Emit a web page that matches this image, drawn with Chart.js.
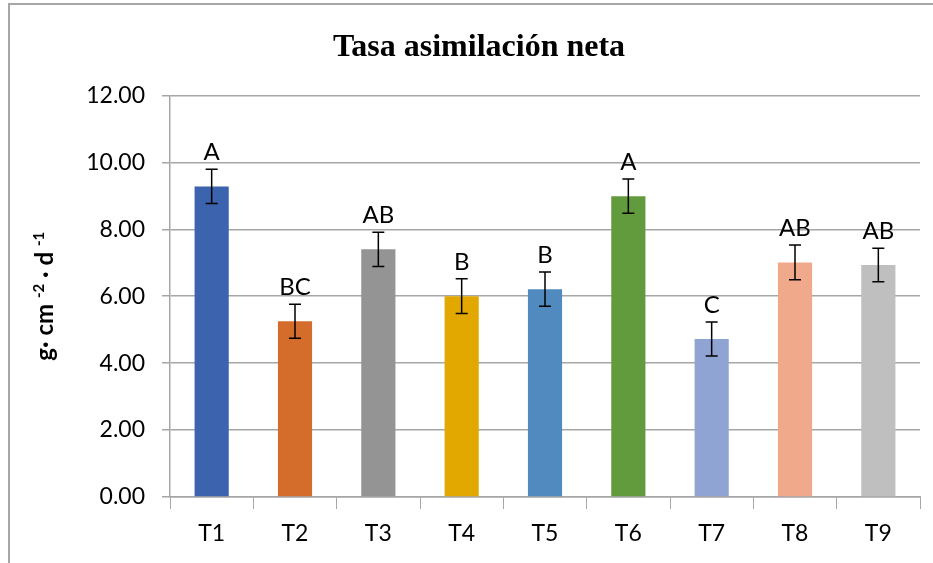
<!DOCTYPE html>
<html>
<head>
<meta charset="utf-8">
<script src="https://cdn.jsdelivr.net/npm/chart.js@4.4.1/dist/chart.umd.min.js"></script>
<style>
  html, body { margin: 0; padding: 0; background: #fff; }
  #wrap { position: relative; width: 933px; height: 563px; overflow: hidden; }
  #frameTop { position: absolute; left: 8px; top: 3px; right: 0; height: 0; border-top: 2px solid #a6a6a6; }
  #frameLeft { position: absolute; left: 8px; top: 3px; bottom: 0; width: 0; border-left: 2px solid #a6a6a6; }
</style>
</head>
<body>
<div id="wrap">
  <canvas id="tanChart" width="933" height="563"></canvas>
  <div id="frameTop"></div>
  <div id="frameLeft"></div>
</div>
<script>
/* Tasa asimilación neta por tratamiento, con error estándar y letras de Tukey */
var categories = ["T1", "T2", "T3", "T4", "T5", "T6", "T7", "T8", "T9"];
var values = [9.28, 5.25, 7.40, 6.00, 6.21, 8.99, 4.72, 7.01, 6.93];
var errors = [0.51, 0.51, 0.51, 0.52, 0.51, 0.51, 0.51, 0.52, 0.50];
var letters = ["A", "BC", "AB", "B", "B", "A", "C", "AB", "AB"];
var barColors = ["#3C63AE", "#D46D2C", "#949494", "#E3A800", "#508ABE",
                 "#629A3E", "#8FA4D3", "#F0A98A", "#BFBFBF"];
var yTicks = [0, 2, 4, 6, 8, 10, 12];
// axis title pieces: [text, superscript?]
var yTitleParts = [["g· cm ", false], ["-2", true], [" · d ", false], ["-1", true]];

// error bars + letters drawn from the library's scales
var errorBarPlugin = {
  id: "errorBars",
  afterDatasetsDraw: function (chart) {
    var ctx = chart.ctx;
    var meta = chart.getDatasetMeta(0);
    var y = chart.scales.y;
    ctx.save();
    ctx.strokeStyle = "#000";
    ctx.lineWidth = 1.5;
    meta.data.forEach(function (bar, i) {
      var x = bar.x;
      var top = y.getPixelForValue(values[i] + errors[i]);
      var bot = y.getPixelForValue(values[i] - errors[i]);
      ctx.beginPath();
      ctx.moveTo(x, top); ctx.lineTo(x, bot);
      ctx.moveTo(x - 6, top); ctx.lineTo(x + 6, top);
      ctx.moveTo(x - 6, bot); ctx.lineTo(x + 6, bot);
      ctx.stroke();
      ctx.fillStyle = "#000";
      ctx.font = "24px Lato";
      ctx.textAlign = "center";
      ctx.textBaseline = "middle";
      ctx.fillText(letters[i], x, top - 17);
    });
    ctx.restore();
  }
};

// rotated y title with real superscripts
var yTitlePlugin = {
  id: "yTitle",
  afterDraw: function (chart) {
    var ctx = chart.ctx;
    var area = chart.chartArea;
    var mainFont = "bold 24px Lato";
    var supFont = "bold 15px Lato";
    ctx.save();
    var total = 0;
    yTitleParts.forEach(function (p) {
      ctx.font = p[1] ? supFont : mainFont;
      total += ctx.measureText(p[0]).width;
    });
    ctx.translate(46, (area.top + area.bottom) / 2);
    ctx.rotate(-Math.PI / 2);
    ctx.fillStyle = "#000";
    ctx.textBaseline = "alphabetic";
    ctx.textAlign = "left";
    var x = -total / 2;
    yTitleParts.forEach(function (p) {
      ctx.font = p[1] ? supFont : mainFont;
      ctx.fillText(p[0], x, p[1] ? -2 : 7);
      x += ctx.measureText(p[0]).width;
    });
    ctx.restore();
  }
};

new Chart(document.getElementById("tanChart").getContext("2d"), {
  type: "bar",
  data: {
    labels: categories,
    datasets: [{
      data: values,
      backgroundColor: barColors,
      borderWidth: 0,
      barPercentage: 0.41,
      categoryPercentage: 1.0
    }]
  },
  options: {
    responsive: false,
    animation: false,
    layout: { padding: { left: 38, right: 13, top: 0, bottom: 0 } },
    plugins: {
      legend: { display: false },
      tooltip: { enabled: false },
      title: {
        display: true,
        text: "Tasa asimilación neta",
        color: "#000",
        font: { family: "Liberation Serif", size: 32, weight: "bold" },
        padding: { top: 29, bottom: 28 }
      }
    },
    scales: {
      x: {
        offset: true,
        grid: { display: true, drawOnChartArea: false, drawTicks: true, tickLength: 12, color: "#a6a6a6", offset: true },
        border: { display: true, color: "#a6a6a6", width: 1.5 },
        ticks: { color: "#000", font: { family: "Lato", size: 23 }, padding: 11 },
        afterFit: function (s) { s.height = 66; }
      },
      y: {
        min: 0,
        max: 12,
        afterBuildTicks: function (s) {
          s.ticks = yTicks.map(function (v) { return { value: v }; });
        },
        grid: { color: "#a6a6a6", lineWidth: 1.5, tickLength: 8 },
        border: { display: true, color: "#a6a6a6", width: 1.5 },
        ticks: {
          color: "#000",
          font: { family: "Lato", size: 23 },
          padding: 17,
          callback: function (v) { return Number(v).toFixed(2); }
        },
        afterFit: function (s) { s.width = 132; }
      }
    }
  },
  plugins: [errorBarPlugin, yTitlePlugin]
});
</script>
</body>
</html>
